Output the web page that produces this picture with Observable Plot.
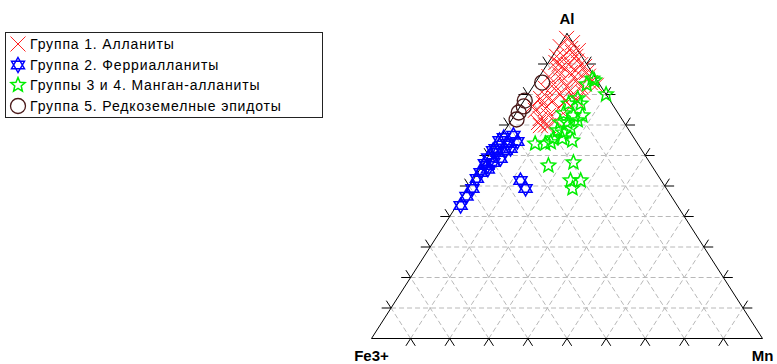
<!DOCTYPE html>
<html><head><meta charset="utf-8">
<script src="https://cdn.jsdelivr.net/npm/d3@7"></script>
<script src="https://cdn.jsdelivr.net/npm/@observablehq/plot@0.6"></script>
<style>
body{margin:0;background:#fff;}
#wrap{position:relative;width:777px;height:364px;overflow:hidden;font-family:"Liberation Sans",Arial,sans-serif;}
#wrap > svg{position:absolute;left:0;top:0;}
#legend{position:absolute;left:5px;top:32px;width:318px;height:86px;border:1px solid #222;background:#fff;box-sizing:border-box;}
.row{position:absolute;left:0;height:20px;display:flex;align-items:center;font-size:14px;letter-spacing:0.85px;color:#000;white-space:nowrap;}
.row svg{margin-left:3px;margin-right:3px;}
</style></head><body><div id="wrap"></div>
<script>
// ---- data (percent Al, percent Mn; Fe3+ = 100 - Al - Mn) ----
const group1Al = [98.4,95.7,95.1,92.5,92.5,90.5,89.8,89.8,87.9,87.2,87.2,85.9,84.6,84.6,83.9,82.0,81.3,81.3,80.7,78.7,78.0,78.0,78.0,75.4,75.4,73.1,74.8,97.0,89.2,87.9,83.3,82.6,82.6,80.0,79.3,76.1,72.1,71.5,92.5,93.8,91.0,86.5,85.5,77.0,70.0,94.4,89.2,83.0,69.8,76.4,90.0,86.0,79.5,69.8,70.8];
const group1Mn = [0.7,0.4,3.4,6.0,2.9,1.9,5.5,8.6,3.9,7.3,11.4,2.4,6.5,10.1,14.0,3.5,6.6,10.2,13.7,3.9,7.3,10.6,13.4,6.8,10.1,8.7,4.5,2.9,4.2,8.3,4.9,8.6,12.2,8.3,5.1,12.9,7.1,11.4,1.1,4.5,7.0,5.0,9.0,5.5,9.5,5.7,9.9,16.0,8.3,3.0,3.0,12.5,11.8,10.4,7.3];
const group2Al = [66.6,65.9,64.9,63.9,64.6,62.3,61.6,59.3,59.0,57.4,57.7,54.4,52.5,49.2,46.6,43.6,51.8,49.2,61.6,62.3,56.7,61.0,55.5];
const group2Mn = [3.0,0.9,0.3,2.8,5.0,0.6,3.5,0.2,3.5,0.3,2.3,0.7,0.7,1.2,1.0,1.0,12.2,14.8,0.3,4.4,1.3,1.7,2.0];
const group34Al = [85.2,84.6,83.3,80.0,78.7,77.0,77.0,73.8,73.1,73.1,70.8,70.8,71.5,68.2,67.5,68.9,65.6,65.6,64.9,63.9,63.9,64.3,56.7,57.7,51.8,51.8,49.2];
const group34Mn = [13.9,14.7,13.4,20.0,13.4,11.9,15.0,12.2,15.1,17.4,12.9,14.7,17.0,13.5,15.3,16.5,13.7,16.0,18.9,9.9,12.5,13.7,16.9,22.8,25.0,27.6,26.8];
const group5Al = [83.9,78.0,76.1,74.1,71.8];
const group5Mn = [1.7,0.2,0.9,0.6,1.2];

const vertexNames = ["Al","Fe3+","Mn"];
const vertexAl = [100,0,0];
const vertexMn = [0,0,100];
const gridLevels = [10,20,30,40,50,60,70,80,90];
const legendLabels = ["Группа 1. Алланиты","Группа 2. Ферриалланиты","Группы 3 и 4. Манган-алланиты","Группа 5. Редкоземелные эпидоты"];

// ---- ternary -> cartesian (unit triangle) ----
const tx = (al, mn) => (mn + al / 2) / 100;
const ty = (al) => al / 100;
const pts = (A, M) => A.map((a, i) => ({x: tx(a, M[i]), y: ty(a)}));

const grid = [];
for (const k of gridLevels) {
  grid.push({x1: tx(k, 0), y1: ty(k), x2: tx(k, 100 - k), y2: ty(k)});
  grid.push({x1: tx(0, k), y1: ty(0), x2: tx(100 - k, k), y2: ty(100 - k)});
  grid.push({x1: tx(0, 100 - k), y1: ty(0), x2: tx(100 - k, 0), y2: ty(100 - k)});
}
const t = 2.4;
const ticks = [];
for (const k of gridLevels) {
  ticks.push({x1: tx(0, k), y1: ty(0), x2: tx(-t, k), y2: ty(-t)});
  ticks.push({x1: tx(0, k), y1: ty(0), x2: tx(-t, k + t), y2: ty(-t)});
  ticks.push({x1: tx(k, 0), y1: ty(k), x2: tx(k, -t), y2: ty(k)});
  ticks.push({x1: tx(k, 0), y1: ty(k), x2: tx(k + t, -t), y2: ty(k + t)});
  ticks.push({x1: tx(k, 100 - k), y1: ty(k), x2: tx(k, 100 - k + t), y2: ty(k)});
  ticks.push({x1: tx(k, 100 - k), y1: ty(k), x2: tx(k + t, 100 - k), y2: ty(k + t)});
}
const outline = [0, 1, 2, 0].map(i => ({x: tx(vertexAl[i], vertexMn[i]), y: ty(vertexAl[i])}));
const vertices = vertexNames.map((n, i) => ({name: n, x: tx(vertexAl[i], vertexMn[i]), y: ty(vertexAl[i])}));

// ---- custom symbols ----
const crossSym = {draw(c, s) {const r = Math.sqrt(s / Math.PI); c.moveTo(-r, -r); c.lineTo(r, r); c.moveTo(-r, r); c.lineTo(r, -r);}};
const hexSym = {draw(c, s) {
  const r = Math.sqrt(s / Math.PI);
  for (const off of [-90, 90]) {
    for (let i = 0; i < 3; i++) {const a = (off + i * 120) * Math.PI / 180; const x = r * Math.cos(a), y = r * Math.sin(a); if (i) c.lineTo(x, y); else c.moveTo(x, y);}
    c.closePath();
  }
}};
const starSym = {draw(c, s) {
  const r = Math.sqrt(s / Math.PI), ri = r * 0.45;
  for (let i = 0; i < 10; i++) {const a = (-90 + i * 36) * Math.PI / 180; const rr = i % 2 ? ri : r; const x = rr * Math.cos(a), y = rr * Math.sin(a); if (i) c.lineTo(x, y); else c.moveTo(x, y);}
  c.closePath();
}};

const styles = [
  {sym: crossSym, color: "#ff2020", r: 7.5, sw: 1},
  {sym: hexSym, color: "#0000ff", r: 7.5, sw: 1.5},
  {sym: starSym, color: "#00ee00", r: 7.5, sw: 1.5},
  {sym: "circle", color: "#4a1a1a", r: 7.5, sw: 1.3}
];
const groups = [pts(group1Al, group1Mn), pts(group2Al, group2Mn), pts(group34Al, group34Mn), pts(group5Al, group5Mn)];

const chart = Plot.plot({
  width: 777, height: 364,
  marginLeft: 371, marginRight: 15, marginTop: 33, marginBottom: 26,
  x: {domain: [0, 1]}, y: {domain: [0, 1]}, axis: null,
  style: {fontFamily: "'Liberation Sans', Arial, sans-serif", background: "transparent"},
  marks: [
    Plot.link(grid, {x1: "x1", y1: "y1", x2: "x2", y2: "y2", stroke: "#b8b8b8", strokeDasharray: "5,3", strokeWidth: 1}),
    Plot.line(outline, {x: "x", y: "y", stroke: "#000", strokeWidth: 1}),
    Plot.link(ticks, {x1: "x1", y1: "y1", x2: "x2", y2: "y2", stroke: "#000", strokeWidth: 1}),
    ...groups.map((g, i) => Plot.dot(g, {x: "x", y: "y", symbol: styles[i].sym, r: styles[i].r, stroke: styles[i].color, fill: "none", strokeWidth: styles[i].sw})),
    Plot.text(vertices.slice(0, 1), {x: "x", y: "y", text: "name", dy: -14, fontSize: 15, fontWeight: "bold", fill: "#000"}),
    Plot.text(vertices.slice(1), {x: "x", y: "y", text: "name", dy: 18, fontSize: 15, fontWeight: "bold", fill: "#000"})
  ]
});
const wrap = document.getElementById("wrap");
wrap.appendChild(chart);

// ---- legend ----
const legend = document.createElement("div");
legend.id = "legend";
legendLabels.forEach((lab, i) => {
  const row = document.createElement("div");
  row.className = "row";
  row.style.top = (1 + i * 20.5) + "px";
  const st = styles[i];
  const sz = st.r * st.r * Math.PI;
  const path = d3.symbol(typeof st.sym === "string" ? d3.symbolCircle : st.sym, sz)();
  row.innerHTML = `<svg width="18" height="18" viewBox="-9 -9 18 18"><path d="${path}" fill="none" stroke="${st.color}" stroke-width="${st.sw}"/></svg><span>${lab}</span>`;
  legend.appendChild(row);
});
wrap.appendChild(legend);
</script></body></html>
